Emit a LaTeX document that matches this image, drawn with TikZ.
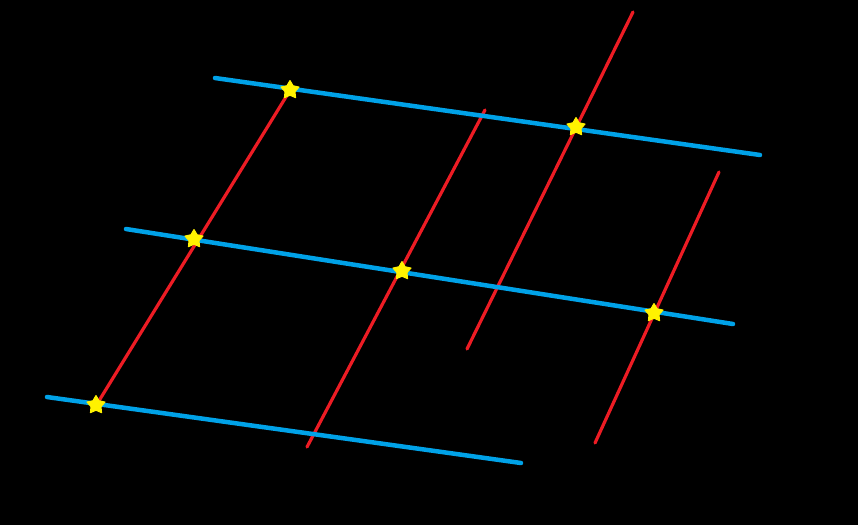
\documentclass[tikz,border=0pt]{standalone}
\usetikzlibrary{shapes.geometric}
\definecolor{bgblack}{RGB}{0,0,0}
\definecolor{lineblue}{RGB}{0,162,232}
\definecolor{linered}{RGB}{237,28,36}
\definecolor{staryellow}{RGB}{255,242,0}
\tikzset{
  blueline/.style={draw=lineblue, line width=4.5pt, line cap=round},
  redline/.style={draw=linered, line width=3.2pt, line cap=round},
  starmark/.style={star, star points=5, star point ratio=1.8, fill=staryellow, draw=staryellow, line width=1pt, line join=round, inner sep=0pt, minimum size=19pt}
}
\begin{document}
\begin{tikzpicture}[x=1pt,y=-1pt]
\fill[bgblack] (0,0) rectangle (858,525);
\useasboundingbox (0,0) rectangle (858,525);
% red line ends
\coordinate (r1a) at (289,92);
\coordinate (r1b) at (97,404);
\coordinate (r2a) at (485,110);
\coordinate (r2b) at (307,447);
\coordinate (r3a) at (633,12);
\coordinate (r3b) at (467,349);
\coordinate (r4a) at (719,172);
\coordinate (r4b) at (595,443);
% blue line ends
\coordinate (b1a) at (215,78);
\coordinate (b1b) at (760,155);
\coordinate (b2a) at (126,229);
\coordinate (b2b) at (733,324);
\coordinate (b3a) at (47,397);
\coordinate (b3b) at (521,463);
\draw[redline] (r1a) -- (r1b);
\draw[redline] (r2a) -- (r2b);
\draw[redline] (r3a) -- (r3b);
\draw[redline] (r4a) -- (r4b);
\draw[blueline] (b1a) -- (b1b);
\draw[blueline] (b2a) -- (b2b);
\draw[blueline] (b3a) -- (b3b);
\node[starmark] (s1) at (290,90) {};
\node[starmark] (s2) at (576,127) {};
\node[starmark] (s3) at (194,239) {};
\node[starmark] (s4) at (402,271) {};
\node[starmark] (s5) at (654,313) {};
\node[starmark] (s6) at (96,405) {};
\end{tikzpicture}
\end{document}
